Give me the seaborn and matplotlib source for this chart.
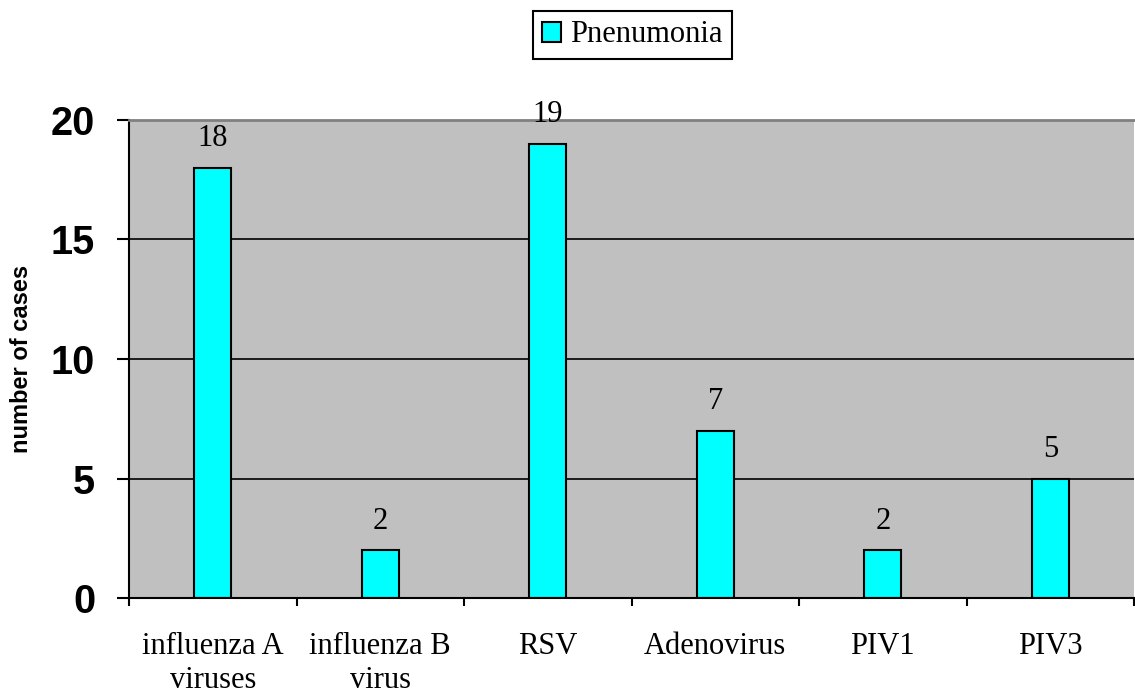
import matplotlib
matplotlib.use("Agg")
import matplotlib.pyplot as plt
from matplotlib.ticker import FixedLocator
import seaborn as sns
import pandas as pd

# Pneumonia cases by virus
categories = ["influenza A\nviruses", "influenza B\nvirus", "RSV", "Adenovirus", "PIV1", "PIV3"]
cases = [18, 2, 19, 7, 2, 5]
series_name = "Pnenumonia"
y_ticks = [0, 5, 10, 15, 20]

df = pd.DataFrame({"virus": categories, "cases": cases})

sns.set_style("white", {"axes.facecolor": "#C0C0C0"})
plt.rcParams["font.family"] = ["Liberation Serif", "DejaVu Serif"]
plt.rcParams.update({"text.color": "black", "axes.labelcolor": "black",
                     "xtick.color": "black", "ytick.color": "black"})

fig = plt.figure(figsize=(11.35, 6.94), dpi=100)
ax = fig.add_axes([0.1137, 0.1383, 0.8855, 0.6888])

sns.barplot(data=df, x="virus", y="cases", color="#00FFFF", saturation=1,
            edgecolor="black", linewidth=1.5, width=0.22, label=series_name, ax=ax)
if ax.get_legend() is not None:
    ax.get_legend().remove()

ax.set_ylim(0, 20)
ax.set_xlim(-0.5, len(categories) - 0.5)

# grid lines behind the bars
ax.set_axisbelow(True)
ax.yaxis.grid(True, color="black", linewidth=1.2)
ax.xaxis.grid(False)

# spines
ax.spines["top"].set_color("#808080")
ax.spines["top"].set_linewidth(2)
ax.spines["right"].set_visible(False)
for s in ("left", "bottom"):
    ax.spines[s].set_color("black")
    ax.spines[s].set_linewidth(1.5)

# y axis
ax.set_yticks(y_ticks)
ax.set_yticklabels([str(t) for t in y_ticks], family="Liberation Sans",
                   fontweight="bold", fontsize=28.5)
ax.tick_params(axis="y", direction="out", length=8.5, width=1.5, color="black", pad=16, left=True)
ax.set_ylabel("number of cases", family="Liberation Sans", fontweight="bold", fontsize=17)
ax.yaxis.set_label_coords(-0.096, 0.5)

# x axis: labels at centers, tick marks at category boundaries
ax.set_xlabel("")
ax.set_xticks(range(len(categories)))
ax.set_xticklabels(categories, fontsize=22, linespacing=1.24)
ax.tick_params(axis="x", which="major", length=0, pad=24.5)
ax.xaxis.set_minor_locator(FixedLocator([i - 0.5 for i in range(len(categories) + 1)]))
ax.tick_params(axis="x", which="minor", direction="out", length=6, width=1.5,
               color="black", bottom=True)

# value labels
ax.bar_label(ax.containers[0], labels=[str(v) for v in cases], padding=10.5, fontsize=22)

# legend
leg = fig.legend(loc="center", bbox_to_anchor=(0.557, 0.9496), fontsize=22,
                 frameon=True, fancybox=False, framealpha=1, edgecolor="black",
                 facecolor="white",
                 handlelength=0.62, handleheight=0.62, handletextpad=0.3,
                 borderpad=0.3)
leg.get_frame().set_linewidth(1.5)

fig.savefig("out.png", dpi=100)
